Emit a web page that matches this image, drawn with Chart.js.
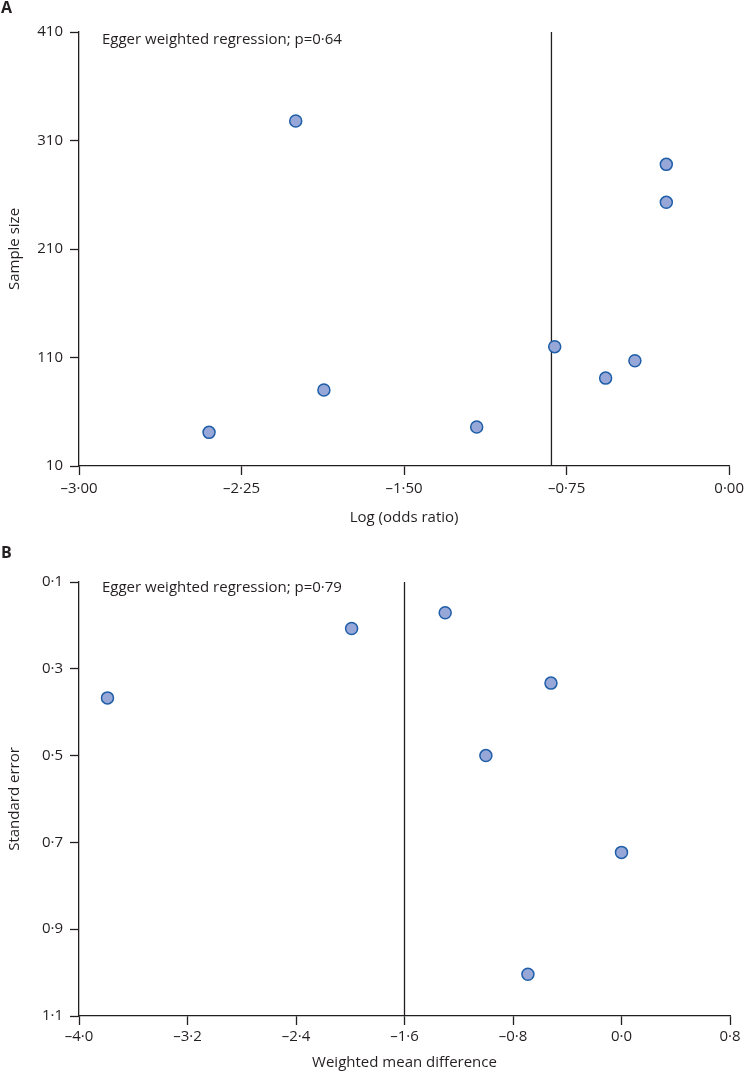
<!DOCTYPE html>
<html>
<head>
<meta charset="utf-8">
<script src="https://cdn.jsdelivr.net/npm/chart.js@4.4.1/dist/chart.umd.min.js"></script>
<style>
    body { margin: 0; background: #fff; }
    #wrap { position: relative; width: 749px; height: 1074px; }
    canvas { position: absolute; left: 0; }
    #chartA { top: 0; }
    #chartB { top: 530px; }
</style>
</head>
<body>
<div id="wrap">
    <canvas id="chartA" width="749" height="530"></canvas>
    <canvas id="chartB" width="749" height="544"></canvas>
</div>
<script>
// Panel A: log odds ratio vs sample size
const logOddsA = [-2.00, -0.29, -0.29, -2.40, -1.87, -1.165, -0.805, -0.57, -0.435];
const sampleSizeA = [328, 288, 253, 41, 80, 46, 120, 91, 107];
const pooledA = -0.82;
const xTickValsA = [-3.00, -2.25, -1.50, -0.75, 0.00];
const xTickLabelsA = ['\u20133\u00b700', '\u20132\u00b725', '\u20131\u00b750', '\u20130\u00b775', '0\u00b700'];
const yTickValsA = [10, 110, 210, 310, 410];
const yTickLabelsA = ['10', '110', '210', '310', '410'];

// Panel B: weighted mean difference vs standard error
const wmdB = [-3.79, -1.99, -1.30, -0.52, -1.00, 0.00, -0.69];
const seB = [0.367, 0.207, 0.171, 0.333, 0.500, 0.723, 1.004];
const pooledB = -1.6;
const xTickValsB = [-4.0, -3.2, -2.4, -1.6, -0.8, 0.0, 0.8];
const xTickLabelsB = ['\u20134\u00b70', '\u20133\u00b72', '\u20132\u00b74', '\u20131\u00b76', '\u20130\u00b78', '0\u00b70', '0\u00b78'];
const yTickValsB = [0.1, 0.3, 0.5, 0.7, 0.9, 1.1];
const yTickLabelsB = ['0\u00b71', '0\u00b73', '0\u00b75', '0\u00b77', '0\u00b79', '1\u00b71'];

const ink = '#231f20';
const fontFamily = '"Open Sans", "Noto Sans", sans-serif';

function makeChart(id, opts) {
    const points = opts.xs.map((x, i) => ({ x: x, y: opts.ys[i] }));
    const yMin = Math.min(...opts.yTickVals);
    const yMax = Math.max(...opts.yTickVals);

    const textPlugin = {
        id: 'panelText',
        afterDraw(chart) {
            const ctx = chart.ctx;
            const area = chart.chartArea;
            ctx.save();
            ctx.fillStyle = ink;
            ctx.textBaseline = 'middle';
            ctx.textAlign = 'left';
            ctx.font = 'bold 16px ' + fontFamily;
            ctx.fillText(opts.letter, 1, opts.letterY);
            ctx.font = '15px ' + fontFamily;
            ctx.fillText(opts.note, area.left + 23, area.top + opts.noteDy);
            ctx.restore();
        }
    };

    return new Chart(document.getElementById(id), {
        type: 'scatter',
        data: {
            datasets: [
                {
                    data: points,
                    pointRadius: 6,
                    pointHoverRadius: 6,
                    pointBackgroundColor: '#97a8d8',
                    pointBorderColor: '#1f5ea8',
                    pointBorderWidth: 1.5
                },
                {
                    type: 'line',
                    data: [{ x: opts.pooled, y: yMin }, { x: opts.pooled, y: yMax }],
                    borderColor: ink,
                    borderWidth: 1.3,
                    pointRadius: 0,
                    fill: false
                }
            ]
        },
        plugins: [textPlugin],
        options: {
            responsive: false,
            animation: false,
            events: [],
            layout: { padding: { top: opts.top, right: 19, left: 0, bottom: 0 } },
            plugins: { legend: { display: false }, tooltip: { enabled: false } },
            scales: {
                x: {
                    type: 'linear',
                    min: opts.xTickVals[0],
                    max: opts.xTickVals[opts.xTickVals.length - 1],
                    afterBuildTicks: s => { s.ticks = opts.xTickVals.map(v => ({ value: v })); },
                    afterFit: s => { s.height = opts.xHeight; },
                    grid: { drawOnChartArea: false, drawTicks: true, tickLength: 9, tickWidth: 1.3, tickColor: ink },
                    border: { display: true, color: ink, width: 1.3 },
                    ticks: {
                        autoSkip: false,
                        maxRotation: 0,
                        padding: opts.xTickPad,
                        color: ink,
                        font: { family: fontFamily, size: 15 },
                        callback: (v, i) => opts.xTickLabels[i]
                    },
                    title: {
                        display: true,
                        text: opts.xTitle,
                        color: ink,
                        font: { family: fontFamily, size: 15 },
                        padding: { top: 0, bottom: opts.xTitlePad }
                    }
                },
                y: {
                    type: 'linear',
                    reverse: opts.reverse,
                    min: yMin,
                    max: yMax,
                    afterBuildTicks: s => { s.ticks = opts.yTickVals.map(v => ({ value: v })); },
                    afterFit: s => { s.width = 79; },
                    grid: { drawOnChartArea: false, drawTicks: true, tickLength: 9, tickWidth: 1.3, tickColor: ink },
                    border: { display: true, color: ink, width: 1.3 },
                    ticks: {
                        autoSkip: false,
                        padding: 7,
                        color: ink,
                        font: { family: fontFamily, size: 15 },
                        callback: (v, i) => opts.yTickLabels[i]
                    },
                    title: {
                        display: true,
                        text: opts.yTitle,
                        color: ink,
                        font: { family: fontFamily, size: 15 },
                        padding: { top: 6, bottom: 0 }
                    }
                }
            }
        }
    });
}

makeChart('chartA', {
    xs: logOddsA, ys: sampleSizeA, pooled: pooledA,
    xTickVals: xTickValsA, xTickLabels: xTickLabelsA,
    yTickVals: yTickValsA, yTickLabels: yTickLabelsA,
    reverse: false, top: 32, xHeight: 64, xTickPad: 5, xTitlePad: 3,
    xTitle: 'Log (odds ratio)', yTitle: 'Sample size',
    letter: 'A', letterY: 8,
    note: 'Egger weighted regression; p=0\u00b764', noteDy: 8
});

makeChart('chartB', {
    xs: wmdB, ys: seB, pooled: pooledB,
    xTickVals: xTickValsB, xTickLabels: xTickLabelsB,
    yTickVals: yTickValsB, yTickLabels: yTickLabelsB,
    reverse: true, top: 52, xHeight: 58, xTickPad: 3, xTitlePad: 2,
    xTitle: 'Weighted mean difference', yTitle: 'Standard error',
    letter: 'B', letterY: 23,
    note: 'Egger weighted regression; p=0\u00b779', noteDy: 6
});
</script>
</body>
</html>
